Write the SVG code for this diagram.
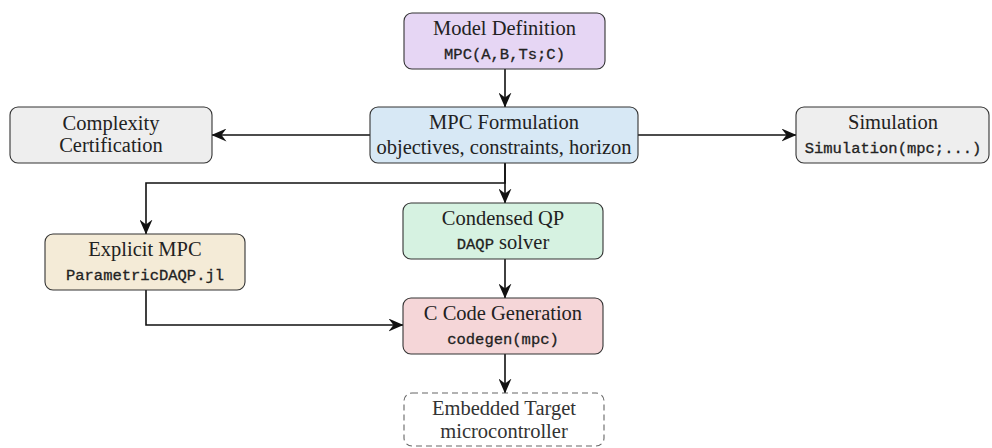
<svg xmlns="http://www.w3.org/2000/svg" width="992" height="448" viewBox="0 0 992 448">
<style>
.box{stroke:#333;stroke-width:1.1}
.t{font-family:"Liberation Serif","DejaVu Serif",serif;font-size:20.5px;fill:#222;text-anchor:middle}
.m{font-family:"Liberation Mono","DejaVu Sans Mono",monospace;font-size:15.5px;fill:#222;stroke:#222;stroke-width:0.3;text-anchor:middle}
.c{fill:none;stroke:#111;stroke-width:1.6}
</style>
<defs>
<marker id="ah" viewBox="0 0 15 13" refX="14.5" refY="6.5" markerWidth="15" markerHeight="13" markerUnits="userSpaceOnUse" orient="auto">
<path d="M0,0 L15,6.5 L0,13 L5,6.5 Z" fill="#111"/>
</marker>
</defs>
<g id="connectors">
<line class="c" x1="505" y1="69" x2="505" y2="107" marker-end="url(#ah)"/>
<line class="c" x1="370" y1="135" x2="212" y2="135" marker-end="url(#ah)"/>
<line class="c" x1="638" y1="135" x2="796" y2="135" marker-end="url(#ah)"/>
<line class="c" x1="505" y1="163" x2="505" y2="203" marker-end="url(#ah)"/>
<polyline class="c" points="505,163 505,183 146,183 146,234" marker-end="url(#ah)"/>
<polyline class="c" points="146,290 146,325 403,325" marker-end="url(#ah)"/>
<line class="c" x1="505" y1="259" x2="505" y2="298" marker-end="url(#ah)"/>
<line class="c" x1="505" y1="354" x2="505" y2="393" marker-end="url(#ah)"/>
</g>
<g id="model">
<rect class="box" x="404" y="13" width="201" height="56" rx="8" fill="#e6d6f4"/>
<text class="t" x="504.5" y="35">Model Definition</text>
<text class="m" x="504.5" y="59">MPC(A,B,Ts;C)</text>
</g>
<g id="formulation">
<rect class="box" x="370" y="107" width="268" height="56" rx="8" fill="#d7e8f5"/>
<text class="t" x="504" y="129">MPC Formulation</text>
<text class="t" x="504" y="154">objectives, constraints, horizon</text>
</g>
<g id="complexity">
<rect class="box" x="10" y="107" width="202" height="56" rx="8" fill="#eeeeee"/>
<text class="t" x="111" y="130">Complexity</text>
<text class="t" x="111" y="152">Certification</text>
</g>
<g id="simulation">
<rect class="box" x="796" y="107" width="193" height="56" rx="8" fill="#eeeeee"/>
<text class="t" x="893" y="129">Simulation</text>
<text class="m" x="893" y="153">Simulation(mpc;...)</text>
</g>
<g id="explicit">
<rect class="box" x="45" y="234" width="200" height="56" rx="8" fill="#f4ebd7"/>
<text class="t" x="145" y="256">Explicit MPC</text>
<text class="m" x="145" y="280">ParametricDAQP.jl</text>
</g>
<g id="condensed">
<rect class="box" x="403" y="203" width="200" height="56" rx="8" fill="#d6f2e1"/>
<text class="t" x="503" y="225">Condensed QP</text>
<text class="t" x="503" y="249"><tspan font-family="Liberation Mono, DejaVu Sans Mono, monospace" font-size="15.5px" stroke="#222" stroke-width="0.3">DAQP</tspan> solver</text>
</g>
<g id="codegen">
<rect class="box" x="403" y="298" width="200" height="56" rx="8" fill="#f5d6d8"/>
<text class="t" x="503" y="320">C Code Generation</text>
<text class="m" x="503" y="344">codegen(mpc)</text>
</g>
<g id="embedded">
<rect x="404" y="393" width="200" height="53" rx="8" fill="#ffffff" stroke="#666" stroke-width="1.1" stroke-dasharray="6,4"/>
<text class="t" x="504" y="415" style="fill:#333">Embedded Target</text>
<text class="t" x="504" y="438" style="fill:#333">microcontroller</text>
</g>
</svg>
